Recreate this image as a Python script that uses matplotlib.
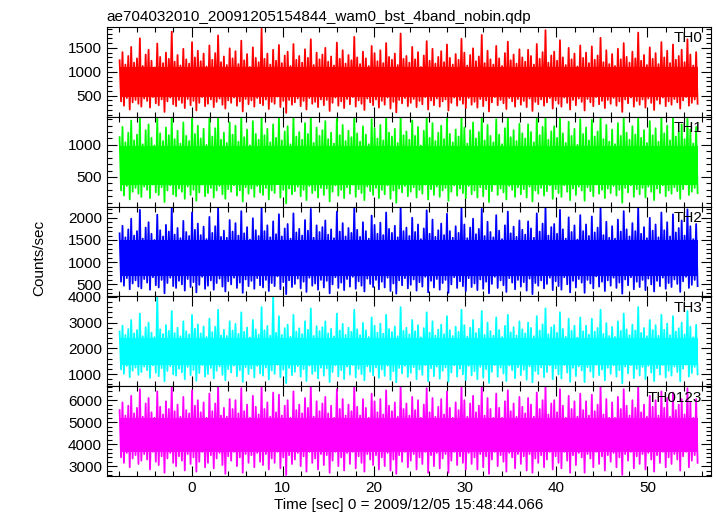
import numpy as np
import matplotlib
matplotlib.use("Agg")
import matplotlib.pyplot as plt
from matplotlib.ticker import MultipleLocator

# light curves read off the picture as alternating local highs / lows
# (one pair per ~1.5 px column of the plot)
t_start, t_end = -7.9, 55.5

th0 = [1240, 380, 1410, 290, 1150, 450, 1330, 210, 1520, 360, 1190, 410, 1280, 330, 1700, 270, 1120, 440, 1360, 390,
       1460, 250, 1230, 470, 1090, 340, 1590, 300, 1310, 420, 1180, 160, 1400, 380, 1270, 460, 1840, 320, 1210, 280,
       1350, 410, 1130, 350, 1480, 240, 1260, 430, 1170, 300, 1620, 390, 1300, 190, 1440, 350, 1220, 470, 1380, 280,
       1110, 330, 1550, 420, 1250, 260, 1390, 370, 1760, 440, 1200, 310, 1320, 230, 1140, 400, 1490, 350, 1280, 460,
       1430, 290, 1160, 380, 1650, 170, 1240, 430, 1370, 320, 1100, 400, 1510, 270, 1290, 450, 1200, 340, 1900, 300,
       1270, 420, 1380, 220, 1150, 370, 1460, 330, 1230, 480, 1560, 260, 1180, 390, 1340, 140, 1420, 410, 1120, 310,
       1580, 360, 1250, 440, 1330, 280, 1190, 390, 1470, 210, 1290, 450, 1680, 330, 1140, 370, 1400, 260, 1260, 420,
       1360, 300, 1500, 410, 1210, 180, 1320, 350, 1130, 460, 1610, 290, 1270, 380, 1450, 240, 1170, 430, 1350, 320,
       1240, 470, 1730, 270, 1300, 400, 1160, 330, 1420, 200, 1280, 440, 1120, 360, 1540, 300, 1390, 420, 1220, 250,
       1450, 390, 1180, 310, 1600, 460, 1310, 230, 1250, 370, 1380, 150, 1140, 410, 1800, 340, 1270, 450, 1330, 280,
       1190, 350, 1520, 430, 1260, 260, 1410, 390, 1100, 320, 1340, 470, 1640, 210, 1230, 400, 1480, 300, 1170, 440,
       1310, 270, 1430, 380, 1200, 420, 1570, 190, 1290, 350, 1150, 460, 1370, 290, 1250, 410, 1690, 330, 1400, 240,
       1130, 450, 1350, 310, 1490, 370, 1220, 250, 1320, 430, 1770, 280, 1180, 400, 1440, 170, 1260, 360, 1150, 470,
       1540, 300, 1280, 410, 1120, 340, 1390, 220, 1630, 450, 1240, 380, 1360, 270, 1170, 430, 1470, 310, 1300, 390,
       1210, 260, 1460, 440, 1330, 180, 1150, 370, 1580, 320, 1270, 420, 1410, 290, 1870, 360, 1190, 450, 1340, 230,
       1420, 400, 1230, 330, 1660, 270, 1300, 460, 1140, 350, 1500, 210, 1260, 410, 1380, 300, 1110, 440, 1550, 370,
       1290, 190, 1400, 430, 1180, 360, 1530, 280, 1250, 470, 1340, 320, 1710, 390, 1200, 240, 1450, 410, 1160, 330,
       1370, 450, 1120, 290, 1480, 380, 1260, 160, 1600, 420, 1310, 340, 1190, 460, 1420, 270, 1280, 390, 1820, 310,
       1230, 420, 1350, 250, 1140, 440, 1510, 350, 1270, 200, 1390, 410, 1160, 330, 1620, 460, 1300, 280, 1440, 380,
       1180, 310, 1570, 430, 1250, 360, 1330, 230, 1460, 400, 1200, 470, 1680, 290, 1360, 350, 1130, 420, 1410, 330]

th1 = [1120, 290, 1280, 210, 1040, 360, 1190, 150, 1380, 270, 1070, 330, 1160, 240, 1440, 190, 1010, 350, 1230, 300,
       1320, 170, 1110, 380, 990, 260, 1440, 220, 1180, 340, 1060, 110, 1270, 290, 1150, 370, 1440, 230, 1090, 200,
       1220, 320, 1020, 270, 1350, 160, 1140, 350, 1060, 220, 1440, 300, 1170, 130, 1300, 260, 1100, 380, 1250, 200,
       1000, 250, 1410, 330, 1130, 180, 1260, 290, 1440, 360, 1080, 230, 1190, 160, 1030, 310, 1350, 270, 1160, 370,
       1300, 210, 1050, 290, 1440, 120, 1120, 340, 1240, 240, 990, 320, 1370, 190, 1170, 360, 1080, 260, 1440, 220,
       1150, 330, 1250, 150, 1040, 290, 1320, 250, 1110, 390, 1420, 180, 1070, 300, 1210, 90, 1290, 320, 1010, 230,
       1440, 280, 1130, 350, 1200, 200, 1080, 300, 1340, 140, 1170, 360, 1440, 250, 1030, 290, 1270, 180, 1140, 330,
       1230, 220, 1370, 320, 1090, 120, 1190, 270, 1020, 370, 1440, 210, 1150, 300, 1310, 170, 1060, 340, 1220, 240,
       1120, 380, 1440, 190, 1180, 310, 1050, 250, 1290, 140, 1160, 350, 1010, 280, 1400, 220, 1260, 330, 1100, 170,
       1310, 300, 1070, 230, 1440, 370, 1190, 160, 1130, 290, 1250, 100, 1030, 320, 1440, 260, 1150, 360, 1210, 200,
       1080, 270, 1380, 340, 1140, 180, 1280, 300, 990, 240, 1220, 380, 1440, 150, 1110, 310, 1340, 220, 1060, 350,
       1190, 190, 1300, 290, 1090, 330, 1420, 130, 1170, 270, 1040, 370, 1240, 210, 1130, 320, 1440, 250, 1270, 170,
       1020, 360, 1230, 230, 1350, 290, 1100, 180, 1200, 340, 1440, 200, 1070, 310, 1310, 110, 1140, 280, 1040, 380,
       1400, 220, 1160, 320, 1010, 260, 1260, 150, 1440, 360, 1120, 300, 1230, 190, 1060, 340, 1330, 230, 1180, 310,
       1100, 180, 1320, 350, 1200, 120, 1040, 290, 1430, 240, 1150, 330, 1280, 210, 1440, 280, 1080, 370, 1210, 160,
       1290, 310, 1110, 250, 1440, 190, 1180, 370, 1030, 270, 1360, 140, 1140, 320, 1250, 220, 1000, 350, 1400, 290,
       1170, 130, 1270, 340, 1070, 280, 1390, 200, 1130, 380, 1210, 240, 1440, 300, 1090, 170, 1310, 320, 1050, 250,
       1240, 360, 1010, 210, 1340, 300, 1140, 100, 1440, 330, 1190, 260, 1080, 370, 1290, 190, 1160, 310, 1440, 230,
       1110, 330, 1230, 180, 1030, 350, 1370, 270, 1150, 140, 1260, 320, 1050, 250, 1440, 370, 1180, 200, 1300, 290,
       1070, 240, 1420, 340, 1130, 280, 1210, 160, 1320, 310, 1090, 380, 1440, 220, 1240, 270, 1020, 330, 1280, 250]

th2 = [1650, 560, 1820, 470, 1560, 640, 1740, 390, 1980, 520, 1600, 590, 1700, 450, 2180, 410, 1530, 620, 1780, 540,
       1900, 380, 1640, 660, 1500, 480, 2070, 430, 1720, 600, 1580, 300, 1840, 530, 1690, 650, 2250, 460, 1620, 420,
       1770, 580, 1540, 500, 1930, 360, 1680, 620, 1590, 440, 2120, 550, 1730, 320, 1870, 490, 1610, 670, 1800, 400,
       1520, 470, 2020, 590, 1660, 380, 1810, 530, 2220, 630, 1570, 450, 1710, 340, 1550, 570, 1950, 500, 1690, 650,
       1880, 420, 1600, 540, 2150, 310, 1650, 610, 1790, 460, 1510, 580, 1990, 400, 1720, 640, 1590, 480, 2250, 430,
       1700, 600, 1830, 350, 1560, 530, 1920, 460, 1630, 680, 2080, 390, 1580, 550, 1760, 280, 1860, 590, 1530, 440,
       2100, 510, 1670, 630, 1750, 410, 1600, 560, 1950, 330, 1710, 650, 2200, 470, 1550, 520, 1830, 380, 1680, 600,
       1790, 430, 1940, 580, 1620, 300, 1740, 500, 1540, 660, 2140, 420, 1690, 540, 1880, 370, 1580, 620, 1770, 450,
       1660, 670, 2230, 400, 1730, 570, 1570, 470, 1900, 340, 1700, 630, 1530, 510, 2050, 440, 1840, 600, 1640, 390,
       1890, 560, 1610, 430, 2120, 650, 1750, 350, 1660, 520, 1820, 290, 1560, 590, 2250, 480, 1700, 640, 1780, 410,
       1590, 490, 2000, 610, 1680, 360, 1850, 550, 1520, 450, 1760, 670, 2170, 320, 1640, 580, 1960, 430, 1570, 620,
       1720, 380, 1870, 530, 1610, 600, 2090, 310, 1700, 500, 1550, 660, 1810, 420, 1660, 570, 2240, 460, 1850, 350,
       1540, 640, 1780, 440, 1980, 520, 1630, 370, 1750, 610, 2200, 400, 1590, 560, 1910, 300, 1680, 510, 1560, 670,
       2060, 420, 1710, 590, 1520, 480, 1830, 330, 2140, 640, 1650, 540, 1800, 390, 1570, 600, 1940, 450, 1730, 550,
       1620, 360, 1920, 630, 1760, 280, 1550, 530, 2100, 470, 1690, 590, 1870, 410, 2250, 510, 1600, 650, 1790, 370,
       1860, 570, 1640, 460, 2180, 380, 1740, 660, 1530, 500, 2010, 320, 1680, 580, 1830, 430, 1510, 620, 2060, 540,
       1700, 310, 1850, 600, 1590, 520, 2030, 410, 1670, 680, 1780, 450, 2230, 560, 1610, 350, 1910, 590, 1550, 470,
       1810, 650, 1530, 420, 1960, 540, 1690, 290, 2150, 610, 1740, 480, 1580, 660, 1880, 390, 1700, 560, 2250, 440,
       1640, 600, 1790, 370, 1540, 630, 2000, 500, 1710, 340, 1850, 580, 1560, 460, 2120, 650, 1720, 400, 1900, 530,
       1580, 440, 2080, 610, 1670, 510, 1770, 330, 1940, 570, 1600, 670, 2190, 420, 1810, 490, 1520, 600, 1860, 460]

th3 = [2650, 1180, 2880, 1010, 2520, 1320, 2750, 880, 3100, 1130, 2580, 1250, 2710, 970, 3350, 1080, 2470, 1290, 2820, 1150,
       3000, 850, 2610, 1340, 2430, 1050, 4000, 920, 2740, 1230, 2550, 720, 2900, 1120, 2680, 1310, 3450, 990, 2590, 940,
       2800, 1210, 2470, 1070, 3050, 800, 2660, 1280, 2540, 960, 3300, 1160, 2760, 740, 2930, 1040, 2580, 1350, 2850, 900,
       2440, 1000, 3150, 1240, 2630, 830, 2840, 1130, 3500, 1300, 2500, 970, 2720, 760, 2480, 1190, 3050, 1060, 2690, 1330,
       2950, 920, 2560, 1150, 3400, 700, 2640, 1270, 2810, 1000, 2420, 1220, 3100, 870, 2730, 1320, 2530, 1030, 3600, 940,
       2700, 1260, 2870, 790, 2490, 1140, 4000, 1010, 2600, 1360, 3250, 880, 2520, 1170, 2780, 650, 2920, 1240, 2450, 960,
       3300, 1090, 2650, 1310, 2780, 900, 2550, 1190, 3050, 730, 2720, 1330, 3550, 1010, 2480, 1110, 2860, 830, 2670, 1250,
       2820, 940, 3050, 1220, 2580, 690, 2760, 1080, 2460, 1340, 3350, 910, 2690, 1150, 2950, 810, 2520, 1290, 2800, 980,
       2640, 1350, 3500, 870, 2740, 1200, 2510, 1000, 2990, 760, 2700, 1300, 2440, 1090, 3200, 950, 2880, 1260, 2610, 850,
       2960, 1180, 2570, 930, 3300, 1330, 2750, 780, 2630, 1110, 2850, 680, 2470, 1240, 3600, 1030, 2680, 1320, 2800, 890,
       2540, 1050, 3100, 1270, 2660, 800, 2900, 1180, 2430, 970, 2780, 1350, 3400, 720, 2610, 1230, 3050, 920, 2500, 1290,
       2730, 820, 2920, 1130, 2550, 1260, 3250, 700, 2700, 1060, 2480, 1340, 2840, 900, 2640, 1210, 3500, 990, 2900, 770,
       2460, 1320, 2800, 950, 3100, 1110, 2590, 800, 2760, 1280, 3450, 860, 2520, 1190, 3000, 660, 2670, 1090, 2490, 1350,
       3200, 900, 2710, 1250, 2440, 1020, 2870, 730, 3300, 1330, 2620, 1150, 2820, 840, 2500, 1270, 3050, 960, 2740, 1170,
       2580, 780, 3000, 1300, 2790, 680, 2470, 1120, 3250, 1000, 2690, 1260, 2930, 880, 3550, 1080, 2550, 1340, 2810, 800,
       2900, 1220, 2600, 990, 3400, 830, 2750, 1350, 2450, 1060, 3150, 700, 2680, 1240, 2880, 920, 2420, 1300, 3200, 1140,
       2660, 690, 2880, 1270, 2530, 1100, 3150, 880, 2650, 1360, 2790, 960, 3500, 1180, 2560, 760, 2980, 1250, 2480, 1010,
       2830, 1340, 2440, 900, 3050, 1150, 2680, 640, 3350, 1290, 2740, 1030, 2510, 1350, 2920, 840, 2690, 1200, 3600, 950,
       2600, 1280, 2790, 810, 2470, 1320, 3100, 1060, 2710, 730, 2900, 1230, 2490, 980, 3300, 1350, 2720, 870, 2960, 1130,
       2510, 940, 3250, 1290, 2650, 1080, 2780, 720, 3000, 1210, 2540, 1360, 3450, 900, 2840, 1040, 2430, 1280, 2910, 990]

th0123 = [5550, 3400, 5900, 3150, 5300, 3600, 5750, 2950, 6200, 3350, 5400, 3500, 5650, 3100, 6500, 3250, 5250, 3550, 5850, 3300,
          6100, 2850, 5450, 3650, 5200, 3200, 6400, 3050, 5700, 3450, 5350, 2700, 5950, 3350, 5600, 3600, 6640, 3150, 5500, 3000,
          5800, 3450, 5250, 3250, 6150, 2800, 5550, 3550, 5400, 3100, 6450, 3400, 5750, 2750, 6000, 3200, 5450, 3650, 5900, 2950,
          5200, 3150, 6300, 3500, 5500, 2900, 5850, 3350, 6640, 3600, 5300, 3050, 5650, 2650, 5250, 3450, 6050, 3250, 5600, 3650,
          6000, 3000, 5400, 3400, 6550, 2700, 5500, 3550, 5800, 3150, 5200, 3500, 6200, 2950, 5700, 3600, 5350, 3200, 6640, 3050,
          5600, 3550, 5900, 2850, 5250, 3350, 6350, 3150, 5450, 3650, 6250, 2900, 5300, 3400, 5750, 2600, 6000, 3500, 5200, 3100,
          6400, 3300, 5550, 3600, 5800, 3000, 5400, 3450, 6100, 2750, 5650, 3650, 6640, 3150, 5250, 3350, 5950, 2850, 5500, 3550,
          5850, 3050, 6150, 3500, 5400, 2700, 5750, 3250, 5200, 3650, 6500, 3000, 5600, 3400, 6050, 2800, 5300, 3600, 5800, 3100,
          5500, 3650, 6600, 2900, 5700, 3450, 5300, 3150, 6050, 2750, 5650, 3550, 5200, 3300, 6300, 3050, 5950, 3500, 5450, 2850,
          6050, 3400, 5350, 3000, 6450, 3600, 5750, 2800, 5500, 3300, 5900, 2650, 5250, 3500, 6640, 3200, 5600, 3650, 5850, 2950,
          5300, 3250, 6150, 3550, 5550, 2850, 6000, 3400, 5200, 3100, 5800, 3650, 6550, 2700, 5450, 3500, 6100, 3000, 5250, 3600,
          5700, 2900, 6050, 3350, 5350, 3550, 6400, 2700, 5650, 3250, 5200, 3650, 5900, 3050, 5550, 3450, 6640, 3150, 6000, 2850,
          5250, 3600, 5850, 3100, 6200, 3400, 5450, 2850, 5750, 3550, 6600, 2950, 5300, 3450, 6100, 2650, 5600, 3300, 5200, 3650,
          6300, 3000, 5650, 3500, 5200, 3200, 5950, 2750, 6450, 3600, 5500, 3400, 5850, 2900, 5250, 3550, 6150, 3100, 5700, 3450,
          5400, 2800, 6100, 3550, 5800, 2700, 5250, 3350, 6350, 3150, 5600, 3500, 6000, 2950, 6640, 3300, 5350, 3650, 5850, 2850,
          6000, 3450, 5450, 3150, 6500, 2900, 5750, 3650, 5200, 3250, 6200, 2700, 5600, 3500, 5950, 3050, 5250, 3600, 6300, 3400,
          5550, 2700, 5950, 3550, 5300, 3350, 6250, 2950, 5500, 3650, 5800, 3100, 6640, 3450, 5350, 2800, 6050, 3500, 5200, 3200,
          5900, 3600, 5200, 2950, 6150, 3400, 5600, 2600, 6500, 3550, 5750, 3250, 5300, 3650, 6000, 2900, 5650, 3450, 6640, 3100,
          5450, 3550, 5800, 2850, 5250, 3600, 6200, 3300, 5700, 2750, 6000, 3500, 5300, 3150, 6400, 3650, 5650, 2950, 6100, 3400,
          5250, 3100, 6350, 3550, 5550, 3300, 5800, 2800, 6050, 3450, 5350, 3650, 6550, 2950, 5900, 3250, 5200, 3500, 6050, 3150]

# solid middle of each band, where every sample passes through (read at start / end)
core_lo = [[480, 480], [380, 380], [680, 680], [1360, 1360], [3650, 3650]]
core_hi = [[1090, 1090], [990, 990], [1500, 1500], [2420, 2420], [5200, 5200]]

bands = ["TH0", "TH1", "TH2", "TH3", "TH0123"]
series = [th0, th1, th2, th3, th0123]
colors = ["#ff0000", "#00ff00", "#0000ff", "#00ffff", "#ff00ff"]
ylims = [(60, 1940), (40, 1440), (230, 2255), (530, 4020), (2550, 6640)]
ymajor = [500, 500, 500, 1000, 1000]
yminor = [100, 100, 100, 200, 200]

plt.rcParams['font.family'] = ['Liberation Sans', 'DejaVu Sans']
plt.rcParams['font.size'] = 11

fig, axes = plt.subplots(5, 1, sharex=True, figsize=(7.17, 5.16), dpi=100)
fig.subplots_adjust(left=0.149, right=0.992, top=0.948, bottom=0.0775, hspace=0)

for i, ax in enumerate(axes):
    y = series[i]
    t = np.linspace(t_start, t_end, len(y))
    tc = np.linspace(t_start, t_end, len(core_lo[i]))
    ax.fill_between(tc, core_lo[i], core_hi[i], color=colors[i], lw=0)
    ax.plot(t, y, color=colors[i], lw=1.3)
    ax.set_ylim(*ylims[i])
    ax.set_xlim(-9.3, 57.0)
    ax.yaxis.set_major_locator(MultipleLocator(ymajor[i]))
    ax.yaxis.set_minor_locator(MultipleLocator(yminor[i]))
    ax.xaxis.set_major_locator(MultipleLocator(10))
    ax.xaxis.set_minor_locator(MultipleLocator(2))
    ax.tick_params(which='both', direction='in', top=True, right=True)
    ax.tick_params(which='major', length=7, width=0.8)
    ax.tick_params(which='minor', length=3.5, width=0.8)
    ax.text(0.985, 0.95, bands[i], transform=ax.transAxes, ha='right', va='top', fontsize=11)

axes[0].set_title("ae704032010_20091205154844_wam0_bst_4band_nobin.qdp", loc='left', fontsize=11, pad=4)
axes[-1].set_xlabel("Time [sec] 0 = 2009/12/05 15:48:44.066", labelpad=2)
fig.text(0.055, 0.5, "Counts/sec", rotation=90, va='center', ha='center', fontsize=11)

plt.savefig("out.png")
